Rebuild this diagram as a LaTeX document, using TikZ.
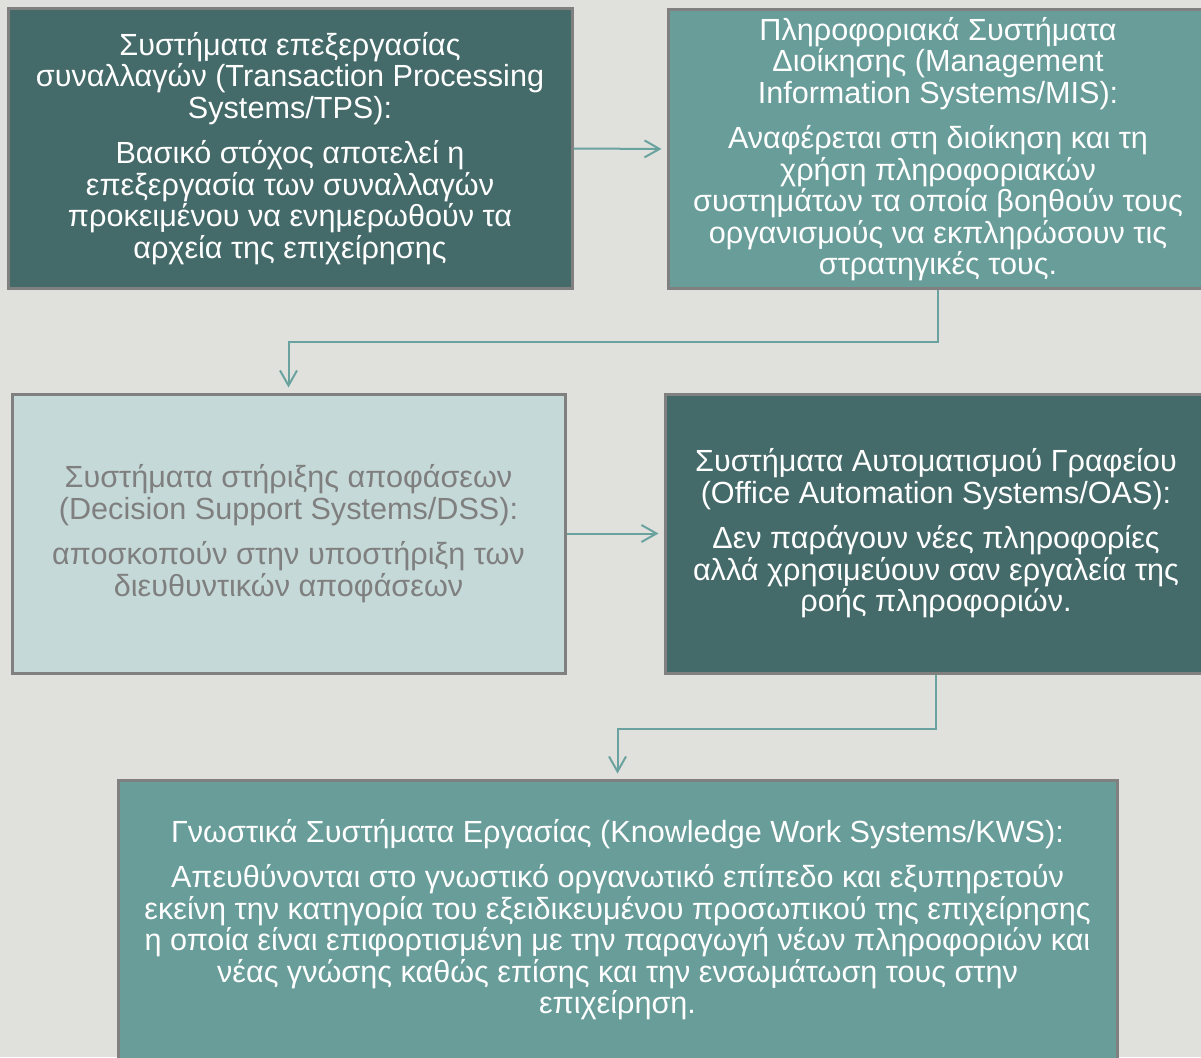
\documentclass[tikz,border=0pt]{standalone}
\usepackage{fontspec}
\setmainfont{Liberation Sans}
\usetikzlibrary{arrows.meta,calc,positioning}
\definecolor{bgcol}{HTML}{E0E1DC}
\definecolor{darkteal}{HTML}{456A6A}
\definecolor{midteal}{HTML}{689D9A}
\definecolor{lightteal}{HTML}{C5DAD8}
\definecolor{boxline}{HTML}{808080}
\definecolor{linkcol}{HTML}{6AA2A0}
\definecolor{greytext}{HTML}{7F7F7F}
\tikzset{
  sysbox/.style={draw=boxline, line width=3pt, minimum height=279pt, inner sep=0pt,
    align=center, text=white, font=\fontsize{30.6}{31.5}\selectfont},
  link/.style={draw=linkcol, line width=2pt, -{Straight Barb[length=15pt,width=17pt]}, shorten >=5pt},
}

\begin{document}
\begin{tikzpicture}[x=1pt, y=-1pt]
    % φόντο
    \useasboundingbox (0,0) rectangle (1201,1057);
    \fill[bgcol] (0,0) rectangle (1201,1057);

    % πρώτη σειρά
    \node[sysbox, fill=darkteal, minimum width=564pt] (tps) at (290,148.5)
        {Συστήματα επεξεργασίας\\ συναλλαγών (Transaction Processing\\ Systems/TPS):\\[14pt]
         Βασικό στόχος αποτελεί η\\ επεξεργασία των συναλλαγών\\ προκειμένου να ενημερωθούν τα\\ αρχεία της επιχείρησης};
    \node[sysbox, fill=midteal, minimum width=540pt] (mis) at (938,149)
        {Πληροφοριακά Συστήματα\\ Διοίκησης (Management\\ Information Systems/MIS):\\[14pt]
         Αναφέρεται στη διοίκηση και τη\\ χρήση πληροφοριακών\\ συστημάτων τα οποία βοηθούν τους\\ οργανισμούς να εκπληρώσουν τις\\ στρατηγικές τους.};

    % δεύτερη σειρά
    \node[sysbox, fill=lightteal, text=greytext, minimum width=553pt] (dss) at (288.5,533.5)
        {Συστήματα στήριξης αποφάσεων\\ (Decision Support Systems/DSS):\\[14pt]
         αποσκοπούν στην υποστήριξη των\\ διευθυντικών αποφάσεων};
    \node[sysbox, fill=darkteal, minimum width=542pt] (oas) at (936,533.5)
        {Συστήματα Αυτοματισμού Γραφείου\\ (Office Automation Systems/OAS):\\[14pt]
         Δεν παράγουν νέες πληροφορίες\\ αλλά χρησιμεύουν σαν εργαλεία της\\ ροής πληροφοριών.};

    % τρίτη σειρά
    \node[sysbox, fill=midteal, minimum width=999pt] (kws) at (617.5,919.5)
        {Γνωστικά Συστήματα Εργασίας (Knowledge Work Systems/KWS):\\[14pt]
         Απευθύνονται στο γνωστικό οργανωτικό επίπεδο και εξυπηρετούν\\
         εκείνη την κατηγορία του εξειδικευμένου προσωπικού της επιχείρησης\\
         η οποία είναι επιφορτισμένη με την παραγωγή νέων πληροφοριών και\\
         νέας γνώσης καθώς επίσης και την ενσωμάτωση τους στην\\ επιχείρηση.};

    % συνδέσεις
    \draw[link] (tps.east) -- (mis.west);
    \draw[link] (mis.south) -- ++(0,52) -| (dss.north);
    \draw[link] (dss.east) -- (oas.west);
    \draw[link] (oas.south) -- ++(0,54) -| (kws.north);
\end{tikzpicture}
\end{document}
